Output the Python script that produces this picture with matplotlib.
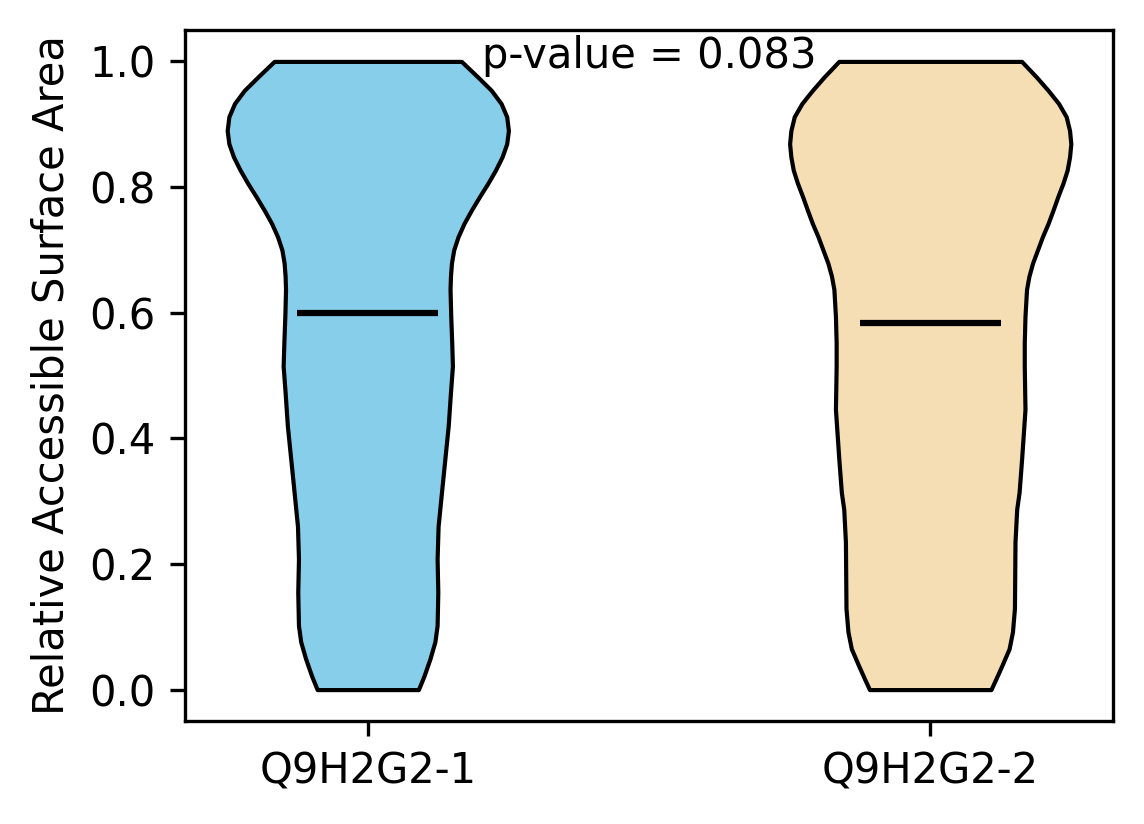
import matplotlib
matplotlib.use("Agg")
import matplotlib.pyplot as plt
import numpy as np

# labels and summary values
isoforms = ["Q9H2G2-1", "Q9H2G2-2"]
colors = ["skyblue", "wheat"]
means = [0.600, 0.583]
p_value = 0.083

# relative violin width (1 = widest) at each RSA level
rsa_left = [0.0, 0.022, 0.049, 0.076, 0.102, 0.155, 0.208, 0.26, 0.314, 0.367,
            0.42, 0.473, 0.515, 0.552, 0.594, 0.637, 0.658, 0.679, 0.700,
            0.721, 0.742, 0.763, 0.785, 0.806, 0.827, 0.848, 0.869, 0.890,
            0.912, 0.933, 0.954, 0.975, 1.0]
width_left = [0.36, 0.40, 0.442, 0.477, 0.493, 0.498, 0.493, 0.50, 0.524, 0.548,
              0.572, 0.588, 0.602, 0.597, 0.590, 0.585, 0.588, 0.595, 0.611,
              0.642, 0.684, 0.736, 0.795, 0.854, 0.908, 0.955, 0.988, 1.0,
              0.988, 0.948, 0.878, 0.783, 0.666]

rsa_right = [0.0, 0.017, 0.038, 0.065, 0.092, 0.129, 0.181, 0.235, 0.287,
             0.314, 0.367, 0.446, 0.515, 0.552, 0.594, 0.637, 0.658, 0.679,
             0.700, 0.721, 0.742, 0.763, 0.785, 0.806, 0.827, 0.848, 0.869,
             0.890, 0.912, 0.933, 0.954, 0.975, 1.0]
width_right = [0.432, 0.467, 0.509, 0.561, 0.585, 0.599, 0.601, 0.603, 0.615,
               0.632, 0.650, 0.674, 0.669, 0.669, 0.674, 0.685, 0.702, 0.728,
               0.763, 0.798, 0.838, 0.873, 0.908, 0.944, 0.974, 0.991, 1.0,
               0.991, 0.967, 0.913, 0.838, 0.756, 0.650]


def make_stats(coords, vals, mean):
    coords = np.array(coords)
    return {"coords": coords, "vals": np.array(vals), "mean": mean,
            "median": mean, "min": coords.min(), "max": coords.max(),
            "quantiles": []}


stats = [make_stats(rsa_left, width_left, means[0]),
         make_stats(rsa_right, width_right, means[1])]

fig = plt.figure(figsize=(1144 / 300, 824 / 300), dpi=300)
ax = fig.add_axes([185 / 1144, 1 - 721 / 824, 928 / 1144, 691 / 824])

parts = ax.violin(stats, positions=[1, 2], widths=0.5,
                  showmeans=True, showextrema=False, showmedians=False)
for body, c in zip(parts["bodies"], colors):
    body.set_facecolor(c)
    body.set_edgecolor("black")
    body.set_linewidth(1.0)
    body.set_alpha(1)
parts["cmeans"].set_color("black")
parts["cmeans"].set_linewidth(1.5)

ax.set_xticks([1, 2])
ax.set_xticklabels(isoforms)
ax.set_ylabel("Relative Accessible Surface Area")
ax.text(1.5, 0.975, f"p-value = {p_value:.3f}", ha="center", va="bottom")

plt.savefig("out.png", dpi=300)
